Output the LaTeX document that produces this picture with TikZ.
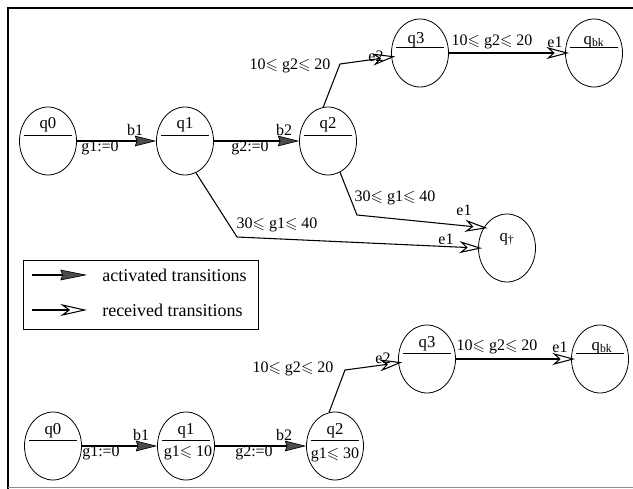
\documentclass[tikz,border=0pt]{standalone}
\usepackage{amssymb}
\usepackage{fontspec}
\setmainfont{Liberation Serif}
\usetikzlibrary{shapes.geometric,arrows.meta,calc}
\newcommand{\myle}{\ensuremath{\leqslant}}
\begin{document}
\begin{tikzpicture}[x=0.75pt,y=-0.75pt,
  st/.style={ellipse,draw,line width=0.6pt,minimum width=42.75pt,minimum height=51pt,inner sep=0pt},
  lbl/.style={font=\fontsize{12}{14}\selectfont,inner sep=0pt},
  nlbl/.style={font=\fontsize{12.5}{14}\selectfont,inner sep=0pt},
  leglbl/.style={font=\fontsize{13.5}{16}\selectfont,inner sep=0pt,anchor=west},
  divider/.style={line width=0.6pt},
  act/.style={line width=0.9pt,-{Stealth[length=16pt,width=8pt,inset=1.5pt,fill=black!70,line width=0.5pt]}},
  rec/.style={line width=0.8pt,-{Stealth[length=17pt,width=9pt,inset=5pt,open,line width=0.8pt]},shorten >=-3pt},
  legact/.style={line width=0.8pt,-{Stealth[length=20pt,width=8pt,inset=1.5pt,fill=black!70,line width=0.5pt]}},
  legrec/.style={line width=0.8pt,-{Stealth[length=20pt,width=9pt,inset=6pt,open,line width=0.8pt]}},
]
\useasboundingbox (0,0) rectangle (633,489);
% frame
\draw[line width=0.8pt] (8,489) -- (8,8) -- (633,8);
\draw[line width=0.6pt,black!45] (8,487.5) -- (633,487.5);

% top automaton
\node[st] (q0) at (48,141) {};
\node[st] (q1) at (185,141) {};
\node[st] (q2) at (328,141) {};
\node[st] (q3) at (420,53) {};
\node[st] (qbk) at (594,53) {};
\node[st] (qd) at (507,248) {};
\foreach \n in {q0,q1,q2,q3,qbk}
  \draw[divider] ($(\n.center)+(-24,-6)$) -- ($(\n.center)+(24,-6)$);
\node[nlbl] (q0l) at ($(q0.center)+(0,-16)$) {q0};
\node[nlbl] (q1l) at ($(q1.center)+(0,-16)$) {q1};
\node[nlbl] (q2l) at ($(q2.center)+(0,-16)$) {q2};
\node[nlbl] (q3l) at ($(q3.center)+(-4,-13)$) {q3};
\node[nlbl] (qbkl) at ($(qbk.center)+(0,-11)$) {q\textsubscript{bk}};
\node[nlbl] (qdl) at ($(qd.center)+(0,-9)$) {q\textsubscript{\dag}};

\coordinate (b23) at (340,64);
\coordinate (b2d) at (357,215);
\coordinate (b1d) at (237,237);

\draw[act] (q0) -- (q1);
\draw[act] (q1) -- (q2);
\draw[rec] (q2.98) -- (b23) -- (q3);
\draw[rec] (q3) -- (qbk);
\draw[rec] (q2.291) -- (b2d) -- (qd.139);
\draw[rec] (q1.289) -- (b1d) -- (qd.west);

\node[lbl] (t1) at (100,148) {g1:=0};
\node[lbl] (t2) at (135,130) {b1};
\node[lbl] (t3) at (250,148) {g2:=0};
\node[lbl] (t4) at (284,130) {b2};
\node[lbl] (t5) at (290,66) {10\myle{} g2\myle{} 20};
\node[lbl] (t6) at (376,56) {e2};
\node[lbl] (t7) at (492,42) {10\myle{} g2\myle{} 20};
\node[lbl] (t8) at (555,42) {e1};
\node[lbl] (t9) at (395,198) {30\myle{} g1\myle{} 40};
\node[lbl] (t10) at (464,210) {e1};
\node[lbl] (t11) at (277,225) {30\myle{} g1\myle{} 40};
\node[lbl] (t12) at (446,239) {e1};

% legend
\node[draw,line width=0.7pt,minimum width=176.25pt,minimum height=51.75pt,inner sep=0pt] (leg) at (140.5,294.5) {};
\coordinate (la1) at (32,275);
\coordinate (la2) at (87,275);
\coordinate (lr1) at (32,310);
\coordinate (lr2) at (87,310);
\draw[legact] (la1) -- (la2);
\draw[legrec] (lr1) -- (lr2);
\node[leglbl] (l1) at (102,275) {activated transitions};
\node[leglbl] (l2) at (102,310) {received transitions};

% bottom automaton
\node[st] (q0b) at (53,446) {};
\node[st] (q1b) at (186,446) {};
\node[st] (q2b) at (335,446) {};
\node[st] (q3b) at (427,359) {};
\node[st] (qbkb) at (600,359) {};
\foreach \n in {q0b,q1b,q2b,q3b,qbkb}
  \draw[divider] ($(\n.center)+(-24,-6)$) -- ($(\n.center)+(24,-6)$);
\node[nlbl] (q0bl) at ($(q0b.center)+(0,-15)$) {q0};
\node[nlbl] (q1bl) at ($(q1b.center)+(0,-15)$) {q1};
\node[nlbl] (q2bl) at ($(q2b.center)+(0,-15)$) {q2};
\node[nlbl] (q3bl) at ($(q3b.center)+(0,-15)$) {q3};
\node[nlbl] (qbkbl) at ($(qbkb.center)+(2,-11)$) {q\textsubscript{bk}};
\node[lbl] (q1bg) at ($(q1b.center)+(2,7)$) {g1\myle{} 10};
\node[lbl] (q2bg) at ($(q2b.center)+(0,9)$) {g1\myle{} 30};

\coordinate (bb23) at (345,370);
\draw[act] (q0b) -- (q1b);
\draw[act] (q1b) -- (q2b);
\draw[rec] (q2b.100) -- (bb23) -- (q3b);
\draw[rec] (q3b) -- (qbkb);

\node[lbl] (s1) at (101,453) {g1:=0};
\node[lbl] (s2) at (141,435) {b1};
\node[lbl] (s3) at (254,453) {g2:=0};
\node[lbl] (s4) at (284,435) {b2};
\node[lbl] (s5) at (293,369) {10\myle{} g2\myle{} 20};
\node[lbl] (s6) at (383,358) {e2};
\node[lbl] (s7) at (497,347) {10\myle{} g2\myle{} 20};
\node[lbl] (s8) at (560,347) {e1};
\end{tikzpicture}
\end{document}
